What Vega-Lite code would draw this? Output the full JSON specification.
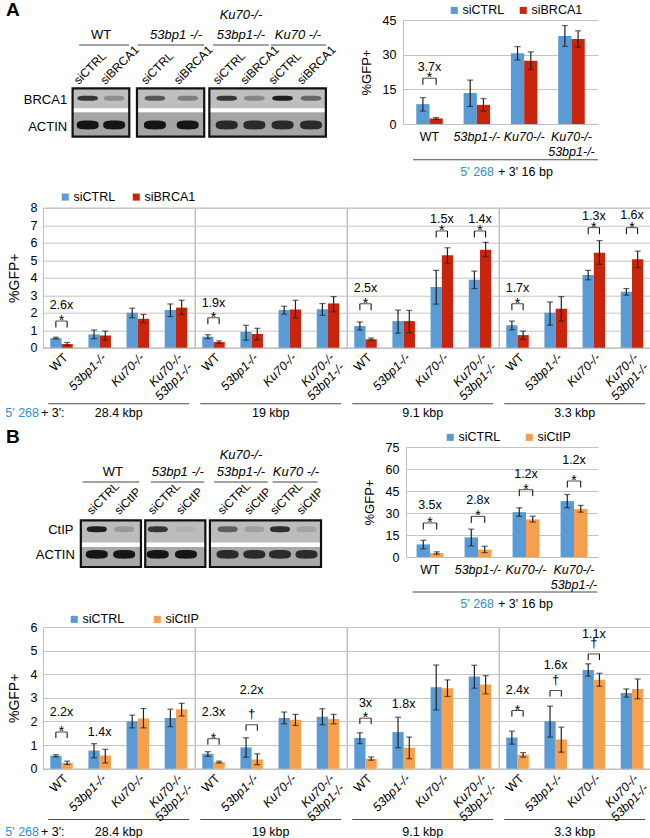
{
"$schema": "https://vega.github.io/schema/vega-lite/v6.json",
"padding": {"left": 4, "top": 0, "right": 2, "bottom": 0},
"config": {
  "font": "Liberation Sans",
  "view": {"stroke": null},
  "axis": {"labelFont": "Liberation Sans", "titleFont": "Liberation Sans", "labelFontSize": 12.5, "titleFontSize": 13, "titleFontWeight": "normal", "labelColor": "#000", "titleColor": "#000", "domainColor": "#bfbfbf", "gridColor": "#c4c4c4", "ticks": false, "labelOverlap": false},
  "legend": {"labelFont": "Liberation Sans", "labelFontSize": 12.5, "labelColor": "#000", "symbolType": "square", "symbolSize": 50, "symbolStrokeWidth": 0, "labelOffset": 2},
  "text": {"font": "Liberation Sans", "fontSize": 12.5, "color": "#000"}
},
"resolve": {"scale": {"color": "independent", "xOffset": "independent", "opacity": "independent", "x": "independent", "y": "independent"}},
"concat": [
 {
  "concat": [
   {
    "hconcat": [
     {
      "width": 288, "height": 104,
      "layer": [
       {"data": {"name": "blA_boxes"}, "mark": {"type": "rect", "color": "#bebebe"},
        "encoding": {"x": {"field": "from", "type": "quantitative", "scale": {"domain": [-0.568, 9.54], "nice": false, "zero": false}, "axis": null}, "x2": {"field": "to"},
                     "y": {"datum": 3.57, "type": "quantitative", "scale": {"domain": [0, 10.4], "nice": false, "zero": false}, "axis": null}, "y2": {"datum": -1.27}}},
       {"data": {"name": "blA_boxes"}, "mark": {"type": "rect", "color": "#a4a4a4"},
        "encoding": {"x": {"field": "from", "type": "quantitative", "axis": null}, "x2": {"field": "to"}, "y": {"datum": 1.17, "type": "quantitative", "axis": null}, "y2": {"datum": -1.27}}},
       {"data": {"name": "blA_boxes"}, "mark": {"type": "rect", "color": "#ffffff"},
        "encoding": {"x": {"field": "from", "type": "quantitative", "axis": null}, "x2": {"field": "to"}, "y": {"datum": 1.57, "type": "quantitative", "axis": null}, "y2": {"datum": 1.17}}},
       {"data": {"name": "blA_lanes"}, "mark": {"type": "point", "filled": true, "shape": "M-1,0C-1,-0.2,-0.8,-0.25,0,-0.25C0.8,-0.25,1,-0.2,1,0C1,0.2,0.8,0.25,0,0.25C-0.8,0.25,-1,0.2,-1,0Z", "size": 420, "color": "#1e1e1e", "strokeWidth": 0},
        "encoding": {"x": {"field": "lane", "type": "quantitative", "axis": null}, "y": {"datum": 2.57, "type": "quantitative", "axis": null}, "opacity": {"field": "p", "type": "quantitative", "scale": {"domain": [0, 1], "range": [0, 1]}, "legend": null}}},
       {"data": {"name": "blA_lanes"}, "mark": {"type": "point", "filled": true, "shape": "M-1,0C-1,-0.32,-0.8,-0.4,0,-0.4C0.8,-0.4,1,-0.32,1,0C1,0.32,0.8,0.4,0,0.4C-0.8,0.4,-1,0.32,-1,0Z", "size": 484, "color": "#151515", "strokeWidth": 0},
        "encoding": {"x": {"field": "lane", "type": "quantitative", "axis": null}, "y": {"datum": -0.1, "type": "quantitative", "axis": null}, "opacity": {"field": "a", "type": "quantitative", "scale": {"domain": [0, 1], "range": [0, 1]}, "legend": null}}},
       {"data": {"name": "blA_boxes"}, "mark": {"type": "rect", "filled": false, "stroke": "#111", "strokeWidth": 2.2},
        "encoding": {"x": {"field": "from", "type": "quantitative", "axis": null}, "x2": {"field": "to"}, "y": {"datum": 3.57, "type": "quantitative", "axis": null}, "y2": {"datum": -1.27}}},
       {"data": {"values": [{"t": "BRCA1"}]}, "mark": {"type": "text", "align": "right", "baseline": "middle", "fontSize": 13},
        "encoding": {"x": {"datum": 0.28, "type": "quantitative", "axis": null}, "y": {"datum": 2.4, "type": "quantitative", "axis": null}, "text": {"field": "t"}}},
       {"data": {"values": [{"t": "ACTIN"}]}, "mark": {"type": "text", "align": "right", "baseline": "middle", "fontSize": 13},
        "encoding": {"x": {"datum": 0.28, "type": "quantitative", "axis": null}, "y": {"datum": -0.3, "type": "quantitative", "axis": null}, "text": {"field": "t"}}},
       {"data": {"name": "blA_lanes"}, "mark": {"type": "text", "angle": 315, "align": "left", "baseline": "alphabetic", "fontSize": 12, "xOffset": -9},
        "encoding": {"x": {"field": "lane", "type": "quantitative", "axis": null}, "y": {"datum": 3.9, "type": "quantitative", "axis": null}, "text": {"field": "si"}}},
       {"data": {"name": "blA_groups"}, "mark": {"type": "rule", "color": "#444", "strokeWidth": 1},
        "encoding": {"x": {"field": "from", "type": "quantitative", "axis": null}, "x2": {"field": "to"}, "y": {"datum": 7.9, "type": "quantitative", "axis": null}}},
       {"data": {"name": "blA_groups"}, "transform": [{"filter": "datum.g == 'WT'"}], "mark": {"type": "text", "baseline": "middle", "fontSize": 13},
        "encoding": {"x": {"field": "c", "type": "quantitative", "axis": null}, "y": {"datum": 8.9, "type": "quantitative", "axis": null}, "text": {"field": "g"}}},
       {"data": {"name": "blA_groups"}, "transform": [{"filter": "datum.g != 'WT'"}], "mark": {"type": "text", "baseline": "middle", "fontSize": 13, "fontStyle": "italic"},
        "encoding": {"x": {"field": "c", "type": "quantitative", "axis": null}, "y": {"datum": 8.9, "type": "quantitative", "axis": null}, "text": {"field": "g"}}},
       {"data": {"values": [{"t": "Ku70-/-"}]}, "mark": {"type": "text", "baseline": "middle", "fontSize": 13, "fontStyle": "italic"},
        "encoding": {"x": {"datum": 6.38, "type": "quantitative", "axis": null}, "y": {"datum": 10.9, "type": "quantitative", "axis": null}, "text": {"field": "t"}}},
       {"data": {"values": [{"t": "A"}]}, "mark": {"type": "text", "align": "left", "baseline": "middle", "fontSize": 19, "fontWeight": "bold"},
        "encoding": {"x": {"datum": -1.87, "type": "quantitative", "axis": null}, "y": {"datum": 11.45, "type": "quantitative", "axis": null}, "text": {"field": "t"}}}
      ]
     },
     {
      "width": 195, "height": 104,
      "layer": [
       {"data": {"name": "sA_bars"},
        "encoding": {"x": {"field": "geno", "type": "nominal", "sort": ["WT", "53bp1-/-", "Ku70-/-", "Ku70-/- 53bp1-/-"], "scale": {"paddingInner": 0.44, "paddingOuter": 0.28},
                           "axis": {"title": null, "labelAngle": 0, "labelPadding": 6, "labelLineHeight": 15, "labelExpr": "datum.value == 'Ku70-/- 53bp1-/-' ? ['Ku70-/-', '53bp1-/-'] : datum.value", "labelFontStyle": {"condition": {"test": "datum.value == 'WT'", "value": "normal"}, "value": "italic"}}},
                     "xOffset": {"field": "si", "type": "nominal", "sort": ["siCTRL", "siBRCA1"]}},
        "layer": [
         {"mark": {"type": "bar"},
          "encoding": {"y": {"field": "v", "type": "quantitative", "scale": {"domain": [0, 45], "nice": false}, "axis": {"title": "%GFP+", "values": [0, 15, 30, 45], "tickCount": 20, "format": "d", "grid": true, "labelPadding": 7, "titlePadding": 9}},
                       "color": {"field": "si", "type": "nominal", "scale": {"domain": ["siCTRL", "siBRCA1"], "range": ["#5b9bd5", "#c9240c"]}, "legend": {"orient": "none", "legendX": 45, "legendY": -16, "direction": "horizontal", "title": null, "columnPadding": 12}}}},
         {"mark": {"type": "rule", "color": "#222", "strokeWidth": 1.2}, "encoding": {"y": {"field": "lo", "type": "quantitative"}, "y2": {"field": "hi"}}},
         {"mark": {"type": "tick", "size": 6, "thickness": 1.2, "color": "#222"}, "encoding": {"y": {"field": "lo", "type": "quantitative"}}},
         {"mark": {"type": "tick", "size": 6, "thickness": 1.2, "color": "#222"}, "encoding": {"y": {"field": "hi", "type": "quantitative"}}}
        ]},
       {"data": {"name": "sA_ann"},
        "encoding": {"x": {"field": "geno", "type": "nominal", "sort": ["WT", "53bp1-/-", "Ku70-/-", "Ku70-/- 53bp1-/-"]}},
        "layer": [
         {"mark": {"type": "text", "baseline": "middle", "fontSize": 12.5}, "encoding": {"y": {"field": "ly", "type": "quantitative"}, "text": {"field": "lab"}}},
         {"transform": [{"filter": "datum.sig == '*'"}], "mark": {"type": "text", "baseline": "alphabetic", "fontSize": 14, "dy": 4}, "encoding": {"y": {"field": "by", "type": "quantitative"}, "text": {"field": "sig"}}},
         {"transform": [{"filter": "isValid(datum.by)"}], "mark": {"type": "tick", "size": 13.3, "thickness": 1, "color": "#000"}, "encoding": {"y": {"field": "by", "type": "quantitative"}}},
         {"transform": [{"filter": "isValid(datum.by)"}, {"flatten": ["pair"], "as": ["si"]}], "mark": {"type": "rule", "color": "#000", "strokeWidth": 1, "y2Offset": 6.5},
          "encoding": {"xOffset": {"field": "si", "type": "nominal", "sort": ["siCTRL", "siBRCA1"]}, "y": {"field": "by", "type": "quantitative"}, "y2": {"field": "by"}}}
        ]},
       {"data": {"values": [{}]}, "mark": {"type": "tick", "orient": "horizontal", "size": 185, "thickness": 1, "color": "#000", "yOffset": 35.7, "xOffset": 5}, "encoding": {"y": {"datum": 0, "type": "quantitative"}}},
       {"data": {"values": [{"t": "5' 268"}]}, "mark": {"type": "text", "align": "right", "baseline": "middle", "color": "#2f8fd0", "dx": -6.5, "dy": 47.7, "fontSize": 12.5}, "encoding": {"y": {"datum": 0, "type": "quantitative"}, "text": {"field": "t"}}},
       {"data": {"values": [{"t": "+ 3' 16 bp"}]}, "mark": {"type": "text", "align": "left", "baseline": "middle", "dx": -2.5, "dy": 47.7, "fontSize": 12.5}, "encoding": {"y": {"datum": 0, "type": "quantitative"}, "text": {"field": "t"}}}
      ]
     }
    ],
    "spacing": 72, "bounds": "flush",
    "resolve": {"scale": {"color": "independent", "xOffset": "independent", "opacity": "independent", "x": "independent", "y": "independent"}}
   },
   {
    "hconcat": [
     {
      "width": 151.5, "height": 140, "view": {"stroke": "#bfbfbf"},
      "data": {"name": "bA"}, "transform": [{"filter": "datum.grp == '28.4 kbp'"}],
      "layer": [
       {"transform": [{"filter": "datum.kind == 'bar'"}],
        "encoding": {"x": {"field": "geno", "type": "nominal", "sort": ["WT", "53bp1-/-", "Ku70-/-", "Ku70-/- 53bp1-/-"], "scale": {"paddingInner": 0.41, "paddingOuter": 0.19}, "axis": {"title": null, "labelAngle": -45, "labelAlign": "right", "labelBaseline": "top", "labelPadding": 3, "labelLineHeight": 14, "labelExpr": "datum.value == 'Ku70-/- 53bp1-/-' ? ['Ku70-/-', '53bp1-/-'] : datum.value", "labelFontStyle": {"condition": {"test": "datum.value == 'WT'", "value": "normal"}, "value": "italic"}}},
                     "xOffset": {"field": "si", "type": "nominal", "sort": ["siCTRL", "siBRCA1"]}},
        "layer": [
         {"mark": {"type": "bar"}, "encoding": {"y": {"field": "v", "type": "quantitative", "scale": {"domain": [0, 8], "nice": false}, "axis": {"title": "%GFP+", "titleFontSize": 14, "values": [0, 1, 2, 3, 4, 5, 6, 7, 8], "tickCount": 20, "format": "d", "grid": true, "labelPadding": 6, "titlePadding": 9}},
           "color": {"field": "si", "type": "nominal", "scale": {"domain": ["siCTRL", "siBRCA1"], "range": ["#5b9bd5", "#c9240c"]}, "legend": {"orient": "none", "legendX": 16, "legendY": -17, "direction": "horizontal", "title": null, "columnPadding": 14}}}},
         {"mark": {"type": "rule", "color": "#222", "strokeWidth": 1.2}, "encoding": {"y": {"field": "lo", "type": "quantitative"}, "y2": {"field": "hi"}}},
         {"mark": {"type": "tick", "size": 6, "thickness": 1.2, "color": "#222"}, "encoding": {"y": {"field": "lo", "type": "quantitative"}}},
         {"mark": {"type": "tick", "size": 6, "thickness": 1.2, "color": "#222"}, "encoding": {"y": {"field": "hi", "type": "quantitative"}}}
        ]},
       {"transform": [{"filter": "datum.kind == 'ann'"}],
        "encoding": {"x": {"field": "geno", "type": "nominal", "sort": ["WT", "53bp1-/-", "Ku70-/-", "Ku70-/- 53bp1-/-"]}},
        "layer": [
         {"mark": {"type": "text", "baseline": "middle", "fontSize": 12.5}, "encoding": {"y": {"field": "ly", "type": "quantitative"}, "text": {"field": "lab"}}},
         {"transform": [{"filter": "datum.sig == '*'"}], "mark": {"type": "text", "baseline": "alphabetic", "fontSize": 14, "dy": 4}, "encoding": {"y": {"field": "by", "type": "quantitative"}, "text": {"field": "sig"}}},
         {"transform": [{"filter": "isValid(datum.by)"}], "mark": {"type": "tick", "size": 11.3, "thickness": 1, "color": "#000"}, "encoding": {"y": {"field": "by", "type": "quantitative"}}},
         {"transform": [{"filter": "isValid(datum.by)"}, {"flatten": ["pair"], "as": ["si"]}], "mark": {"type": "rule", "color": "#000", "strokeWidth": 1, "y2Offset": 6.5}, "encoding": {"xOffset": {"field": "si", "type": "nominal", "sort": ["siCTRL", "siBRCA1"]}, "y": {"field": "by", "type": "quantitative"}, "y2": {"field": "by"}}}
        ]},
       {"transform": [{"filter": "datum.kind == 'grp'"}],
        "layer": [
         {"mark": {"type": "tick", "orient": "horizontal", "size": 141, "thickness": 1, "color": "#000", "yOffset": 56}, "encoding": {"y": {"datum": 0, "type": "quantitative"}}},
         {"mark": {"type": "text", "baseline": "middle", "dy": 65, "fontSize": 12.5}, "encoding": {"y": {"datum": 0, "type": "quantitative"}, "text": {"field": "grp"}}}
        ]},
       {"transform": [{"filter": "datum.kind == 'left'"}],
        "layer": [
         {"transform": [{"filter": "datum.part == 'a'"}], "mark": {"type": "text", "align": "right", "baseline": "middle", "color": "#2f8fd0", "dx": -79.75, "dy": 65, "fontSize": 12.5}, "encoding": {"y": {"datum": 0, "type": "quantitative"}, "text": {"field": "t"}}},
         {"transform": [{"filter": "datum.part == 'b'"}], "mark": {"type": "text", "align": "left", "baseline": "middle", "dx": -77.75, "dy": 65, "fontSize": 12.5}, "encoding": {"y": {"datum": 0, "type": "quantitative"}, "text": {"field": "t"}}}
        ]}
      ]
     },
     {
      "width": 151.5, "height": 140, "view": {"stroke": "#bfbfbf"},
      "data": {"name": "bA"}, "transform": [{"filter": "datum.grp == '19 kbp'"}],
      "layer": [
       {"transform": [{"filter": "datum.kind == 'bar'"}],
        "encoding": {"x": {"field": "geno", "type": "nominal", "sort": ["WT", "53bp1-/-", "Ku70-/-", "Ku70-/- 53bp1-/-"], "scale": {"paddingInner": 0.41, "paddingOuter": 0.19}, "axis": {"title": null, "labelAngle": -45, "labelAlign": "right", "labelBaseline": "top", "labelPadding": 3, "labelLineHeight": 14, "labelExpr": "datum.value == 'Ku70-/- 53bp1-/-' ? ['Ku70-/-', '53bp1-/-'] : datum.value", "labelFontStyle": {"condition": {"test": "datum.value == 'WT'", "value": "normal"}, "value": "italic"}}},
                     "xOffset": {"field": "si", "type": "nominal", "sort": ["siCTRL", "siBRCA1"]}},
        "layer": [
         {"mark": {"type": "bar"}, "encoding": {"y": {"field": "v", "type": "quantitative", "scale": {"domain": [0, 8], "nice": false}, "axis": {"title": null, "labels": false, "domain": false, "values": [0, 1, 2, 3, 4, 5, 6, 7, 8], "tickCount": 20, "grid": true}},
           "color": {"field": "si", "type": "nominal", "scale": {"domain": ["siCTRL", "siBRCA1"], "range": ["#5b9bd5", "#c9240c"]}, "legend": null}}},
         {"mark": {"type": "rule", "color": "#222", "strokeWidth": 1.2}, "encoding": {"y": {"field": "lo", "type": "quantitative"}, "y2": {"field": "hi"}}},
         {"mark": {"type": "tick", "size": 6, "thickness": 1.2, "color": "#222"}, "encoding": {"y": {"field": "lo", "type": "quantitative"}}},
         {"mark": {"type": "tick", "size": 6, "thickness": 1.2, "color": "#222"}, "encoding": {"y": {"field": "hi", "type": "quantitative"}}}
        ]},
       {"transform": [{"filter": "datum.kind == 'ann'"}],
        "encoding": {"x": {"field": "geno", "type": "nominal", "sort": ["WT", "53bp1-/-", "Ku70-/-", "Ku70-/- 53bp1-/-"]}},
        "layer": [
         {"mark": {"type": "text", "baseline": "middle", "fontSize": 12.5}, "encoding": {"y": {"field": "ly", "type": "quantitative"}, "text": {"field": "lab"}}},
         {"transform": [{"filter": "datum.sig == '*'"}], "mark": {"type": "text", "baseline": "alphabetic", "fontSize": 14, "dy": 4}, "encoding": {"y": {"field": "by", "type": "quantitative"}, "text": {"field": "sig"}}},
         {"transform": [{"filter": "isValid(datum.by)"}], "mark": {"type": "tick", "size": 11.3, "thickness": 1, "color": "#000"}, "encoding": {"y": {"field": "by", "type": "quantitative"}}},
         {"transform": [{"filter": "isValid(datum.by)"}, {"flatten": ["pair"], "as": ["si"]}], "mark": {"type": "rule", "color": "#000", "strokeWidth": 1, "y2Offset": 6.5}, "encoding": {"xOffset": {"field": "si", "type": "nominal", "sort": ["siCTRL", "siBRCA1"]}, "y": {"field": "by", "type": "quantitative"}, "y2": {"field": "by"}}}
        ]},
       {"transform": [{"filter": "datum.kind == 'grp'"}],
        "layer": [
         {"mark": {"type": "tick", "orient": "horizontal", "size": 141, "thickness": 1, "color": "#000", "yOffset": 56}, "encoding": {"y": {"datum": 0, "type": "quantitative"}}},
         {"mark": {"type": "text", "baseline": "middle", "dy": 65, "fontSize": 12.5}, "encoding": {"y": {"datum": 0, "type": "quantitative"}, "text": {"field": "grp"}}}
        ]}
      ]
     },
     {
      "width": 151.5, "height": 140, "view": {"stroke": "#bfbfbf"},
      "data": {"name": "bA"}, "transform": [{"filter": "datum.grp == '9.1 kbp'"}],
      "layer": [
       {"transform": [{"filter": "datum.kind == 'bar'"}],
        "encoding": {"x": {"field": "geno", "type": "nominal", "sort": ["WT", "53bp1-/-", "Ku70-/-", "Ku70-/- 53bp1-/-"], "scale": {"paddingInner": 0.41, "paddingOuter": 0.19}, "axis": {"title": null, "labelAngle": -45, "labelAlign": "right", "labelBaseline": "top", "labelPadding": 3, "labelLineHeight": 14, "labelExpr": "datum.value == 'Ku70-/- 53bp1-/-' ? ['Ku70-/-', '53bp1-/-'] : datum.value", "labelFontStyle": {"condition": {"test": "datum.value == 'WT'", "value": "normal"}, "value": "italic"}}},
                     "xOffset": {"field": "si", "type": "nominal", "sort": ["siCTRL", "siBRCA1"]}},
        "layer": [
         {"mark": {"type": "bar"}, "encoding": {"y": {"field": "v", "type": "quantitative", "scale": {"domain": [0, 8], "nice": false}, "axis": {"title": null, "labels": false, "domain": false, "values": [0, 1, 2, 3, 4, 5, 6, 7, 8], "tickCount": 20, "grid": true}},
           "color": {"field": "si", "type": "nominal", "scale": {"domain": ["siCTRL", "siBRCA1"], "range": ["#5b9bd5", "#c9240c"]}, "legend": null}}},
         {"mark": {"type": "rule", "color": "#222", "strokeWidth": 1.2}, "encoding": {"y": {"field": "lo", "type": "quantitative"}, "y2": {"field": "hi"}}},
         {"mark": {"type": "tick", "size": 6, "thickness": 1.2, "color": "#222"}, "encoding": {"y": {"field": "lo", "type": "quantitative"}}},
         {"mark": {"type": "tick", "size": 6, "thickness": 1.2, "color": "#222"}, "encoding": {"y": {"field": "hi", "type": "quantitative"}}}
        ]},
       {"transform": [{"filter": "datum.kind == 'ann'"}],
        "encoding": {"x": {"field": "geno", "type": "nominal", "sort": ["WT", "53bp1-/-", "Ku70-/-", "Ku70-/- 53bp1-/-"]}},
        "layer": [
         {"mark": {"type": "text", "baseline": "middle", "fontSize": 12.5}, "encoding": {"y": {"field": "ly", "type": "quantitative"}, "text": {"field": "lab"}}},
         {"transform": [{"filter": "datum.sig == '*'"}], "mark": {"type": "text", "baseline": "alphabetic", "fontSize": 14, "dy": 4}, "encoding": {"y": {"field": "by", "type": "quantitative"}, "text": {"field": "sig"}}},
         {"transform": [{"filter": "isValid(datum.by)"}], "mark": {"type": "tick", "size": 11.3, "thickness": 1, "color": "#000"}, "encoding": {"y": {"field": "by", "type": "quantitative"}}},
         {"transform": [{"filter": "isValid(datum.by)"}, {"flatten": ["pair"], "as": ["si"]}], "mark": {"type": "rule", "color": "#000", "strokeWidth": 1, "y2Offset": 6.5}, "encoding": {"xOffset": {"field": "si", "type": "nominal", "sort": ["siCTRL", "siBRCA1"]}, "y": {"field": "by", "type": "quantitative"}, "y2": {"field": "by"}}}
        ]},
       {"transform": [{"filter": "datum.kind == 'grp'"}],
        "layer": [
         {"mark": {"type": "tick", "orient": "horizontal", "size": 141, "thickness": 1, "color": "#000", "yOffset": 56}, "encoding": {"y": {"datum": 0, "type": "quantitative"}}},
         {"mark": {"type": "text", "baseline": "middle", "dy": 65, "fontSize": 12.5}, "encoding": {"y": {"datum": 0, "type": "quantitative"}, "text": {"field": "grp"}}}
        ]}
      ]
     },
     {
      "width": 151.5, "height": 140, "view": {"stroke": "#bfbfbf"},
      "data": {"name": "bA"}, "transform": [{"filter": "datum.grp == '3.3 kbp'"}],
      "layer": [
       {"transform": [{"filter": "datum.kind == 'bar'"}],
        "encoding": {"x": {"field": "geno", "type": "nominal", "sort": ["WT", "53bp1-/-", "Ku70-/-", "Ku70-/- 53bp1-/-"], "scale": {"paddingInner": 0.41, "paddingOuter": 0.19}, "axis": {"title": null, "labelAngle": -45, "labelAlign": "right", "labelBaseline": "top", "labelPadding": 3, "labelLineHeight": 14, "labelExpr": "datum.value == 'Ku70-/- 53bp1-/-' ? ['Ku70-/-', '53bp1-/-'] : datum.value", "labelFontStyle": {"condition": {"test": "datum.value == 'WT'", "value": "normal"}, "value": "italic"}}},
                     "xOffset": {"field": "si", "type": "nominal", "sort": ["siCTRL", "siBRCA1"]}},
        "layer": [
         {"mark": {"type": "bar"}, "encoding": {"y": {"field": "v", "type": "quantitative", "scale": {"domain": [0, 8], "nice": false}, "axis": {"title": null, "labels": false, "domain": false, "values": [0, 1, 2, 3, 4, 5, 6, 7, 8], "tickCount": 20, "grid": true}},
           "color": {"field": "si", "type": "nominal", "scale": {"domain": ["siCTRL", "siBRCA1"], "range": ["#5b9bd5", "#c9240c"]}, "legend": null}}},
         {"mark": {"type": "rule", "color": "#222", "strokeWidth": 1.2}, "encoding": {"y": {"field": "lo", "type": "quantitative"}, "y2": {"field": "hi"}}},
         {"mark": {"type": "tick", "size": 6, "thickness": 1.2, "color": "#222"}, "encoding": {"y": {"field": "lo", "type": "quantitative"}}},
         {"mark": {"type": "tick", "size": 6, "thickness": 1.2, "color": "#222"}, "encoding": {"y": {"field": "hi", "type": "quantitative"}}}
        ]},
       {"transform": [{"filter": "datum.kind == 'ann'"}],
        "encoding": {"x": {"field": "geno", "type": "nominal", "sort": ["WT", "53bp1-/-", "Ku70-/-", "Ku70-/- 53bp1-/-"]}},
        "layer": [
         {"mark": {"type": "text", "baseline": "middle", "fontSize": 12.5}, "encoding": {"y": {"field": "ly", "type": "quantitative"}, "text": {"field": "lab"}}},
         {"transform": [{"filter": "datum.sig == '*'"}], "mark": {"type": "text", "baseline": "alphabetic", "fontSize": 14, "dy": 4}, "encoding": {"y": {"field": "by", "type": "quantitative"}, "text": {"field": "sig"}}},
         {"transform": [{"filter": "isValid(datum.by)"}], "mark": {"type": "tick", "size": 11.3, "thickness": 1, "color": "#000"}, "encoding": {"y": {"field": "by", "type": "quantitative"}}},
         {"transform": [{"filter": "isValid(datum.by)"}, {"flatten": ["pair"], "as": ["si"]}], "mark": {"type": "rule", "color": "#000", "strokeWidth": 1, "y2Offset": 6.5}, "encoding": {"xOffset": {"field": "si", "type": "nominal", "sort": ["siCTRL", "siBRCA1"]}, "y": {"field": "by", "type": "quantitative"}, "y2": {"field": "by"}}}
        ]},
       {"transform": [{"filter": "datum.kind == 'grp'"}],
        "layer": [
         {"mark": {"type": "tick", "orient": "horizontal", "size": 141, "thickness": 1, "color": "#000", "yOffset": 56}, "encoding": {"y": {"datum": 0, "type": "quantitative"}}},
         {"mark": {"type": "text", "baseline": "middle", "dy": 65, "fontSize": 12.5}, "encoding": {"y": {"datum": 0, "type": "quantitative"}, "text": {"field": "grp"}}}
        ]}
      ]
     }
    ],
    "spacing": 0, "bounds": "flush",
    "resolve": {"scale": {"color": "independent", "xOffset": "independent", "x": "independent", "y": "independent"}}
   }
  ],
  "columns": 1, "align": "none", "spacing": 10.7,
  "resolve": {"scale": {"color": "independent", "xOffset": "independent", "opacity": "independent", "x": "independent", "y": "independent"}}
 },
 {
  "concat": [
   {
    "hconcat": [
     {
      "width": 288, "height": 110,
      "layer": [
       {"data": {"name": "blB_boxes"}, "mark": {"type": "rect", "color": "#bcbcbc"},
        "encoding": {"x": {"field": "from", "type": "quantitative", "scale": {"domain": [-0.568, 9.54], "nice": false, "zero": false}, "axis": null}, "x2": {"field": "to"},
                     "y": {"datum": 3.67, "type": "quantitative", "scale": {"domain": [0, 11], "nice": false, "zero": false}, "axis": null}, "y2": {"datum": -1.0}}},
       {"data": {"name": "blB_boxes"}, "mark": {"type": "rect", "color": "#a8a8a8"},
        "encoding": {"x": {"field": "from", "type": "quantitative", "axis": null}, "x2": {"field": "to"}, "y": {"datum": 1.0, "type": "quantitative", "axis": null}, "y2": {"datum": -1.0}}},
       {"data": {"name": "blB_boxes"}, "mark": {"type": "rect", "color": "#ffffff"},
        "encoding": {"x": {"field": "from", "type": "quantitative", "axis": null}, "x2": {"field": "to"}, "y": {"datum": 1.44, "type": "quantitative", "axis": null}, "y2": {"datum": 1.0}}},
       {"data": {"name": "blB_lanes"}, "mark": {"type": "point", "filled": true, "shape": "M-1,0C-1,-0.24,-0.8,-0.3,0,-0.3C0.8,-0.3,1,-0.24,1,0C1,0.24,0.8,0.3,0,0.3C-0.8,0.3,-1,0.24,-1,0Z", "size": 400, "color": "#1e1e1e", "strokeWidth": 0},
        "encoding": {"x": {"field": "lane", "type": "quantitative", "axis": null}, "y": {"datum": 2.77, "type": "quantitative", "axis": null}, "opacity": {"field": "p", "type": "quantitative", "scale": {"domain": [0, 1], "range": [0, 1]}, "legend": null}}},
       {"data": {"name": "blB_lanes"}, "mark": {"type": "point", "filled": true, "shape": "M-1,0C-1,-0.32,-0.8,-0.4,0,-0.4C0.8,-0.4,1,-0.32,1,0C1,0.32,0.8,0.4,0,0.4C-0.8,0.4,-1,0.32,-1,0Z", "size": 484, "color": "#151515", "strokeWidth": 0},
        "encoding": {"x": {"field": "lane", "type": "quantitative", "axis": null}, "y": {"datum": 0.27, "type": "quantitative", "axis": null}, "opacity": {"field": "a", "type": "quantitative", "scale": {"domain": [0, 1], "range": [0, 1]}, "legend": null}}},
       {"data": {"name": "blB_boxes"}, "mark": {"type": "rect", "filled": false, "stroke": "#111", "strokeWidth": 2.2},
        "encoding": {"x": {"field": "from", "type": "quantitative", "axis": null}, "x2": {"field": "to"}, "y": {"datum": 3.67, "type": "quantitative", "axis": null}, "y2": {"datum": -1.0}}},
       {"data": {"values": [{"t": "CtIP"}]}, "mark": {"type": "text", "align": "right", "baseline": "middle", "fontSize": 13},
        "encoding": {"x": {"datum": 0.5, "type": "quantitative", "axis": null}, "y": {"datum": 2.67, "type": "quantitative", "axis": null}, "text": {"field": "t"}}},
       {"data": {"values": [{"t": "ACTIN"}]}, "mark": {"type": "text", "align": "right", "baseline": "middle", "fontSize": 13},
        "encoding": {"x": {"datum": 0.55, "type": "quantitative", "axis": null}, "y": {"datum": 0.17, "type": "quantitative", "axis": null}, "text": {"field": "t"}}},
       {"data": {"name": "blB_lanes"}, "mark": {"type": "text", "angle": 315, "align": "left", "baseline": "alphabetic", "fontSize": 12, "xOffset": -5},
        "encoding": {"x": {"field": "lane", "type": "quantitative", "axis": null}, "y": {"datum": 4.17, "type": "quantitative", "axis": null}, "text": {"field": "si"}}},
       {"data": {"name": "blB_groups"}, "mark": {"type": "rule", "color": "#444", "strokeWidth": 1},
        "encoding": {"x": {"field": "from", "type": "quantitative", "axis": null}, "x2": {"field": "to"}, "y": {"datum": 7.5, "type": "quantitative", "axis": null}}},
       {"data": {"name": "blB_groups"}, "transform": [{"filter": "datum.g == 'WT'"}], "mark": {"type": "text", "baseline": "middle", "fontSize": 13},
        "encoding": {"x": {"field": "c", "type": "quantitative", "axis": null}, "y": {"datum": 8.5, "type": "quantitative", "axis": null}, "text": {"field": "g"}}},
       {"data": {"name": "blB_groups"}, "transform": [{"filter": "datum.g != 'WT'"}], "mark": {"type": "text", "baseline": "middle", "fontSize": 13, "fontStyle": "italic"},
        "encoding": {"x": {"field": "c", "type": "quantitative", "axis": null}, "y": {"datum": 8.5, "type": "quantitative", "axis": null}, "text": {"field": "g"}}},
       {"data": {"values": [{"t": "Ku70-/-"}]}, "mark": {"type": "text", "baseline": "middle", "fontSize": 13, "fontStyle": "italic"},
        "encoding": {"x": {"datum": 6.38, "type": "quantitative", "axis": null}, "y": {"datum": 10.17, "type": "quantitative", "axis": null}, "text": {"field": "t"}}},
       {"data": {"values": [{"t": "B"}]}, "mark": {"type": "text", "align": "left", "baseline": "middle", "fontSize": 19, "fontWeight": "bold"},
        "encoding": {"x": {"datum": -1.87, "type": "quantitative", "axis": null}, "y": {"datum": 11.97, "type": "quantitative", "axis": null}, "text": {"field": "t"}}}
      ]
     },
     {
      "width": 192, "height": 110,
      "layer": [
       {"data": {"name": "sB_bars"},
        "encoding": {"x": {"field": "geno", "type": "nominal", "sort": ["WT", "53bp1-/-", "Ku70-/-", "Ku70-/- 53bp1-/-"], "scale": {"paddingInner": 0.44, "paddingOuter": 0.22},
                           "axis": {"title": null, "labelAngle": 0, "labelPadding": 6, "labelLineHeight": 15, "labelExpr": "datum.value == 'Ku70-/- 53bp1-/-' ? ['Ku70-/-', '53bp1-/-'] : datum.value", "labelFontStyle": {"condition": {"test": "datum.value == 'WT'", "value": "normal"}, "value": "italic"}}},
                     "xOffset": {"field": "si", "type": "nominal", "sort": ["siCTRL", "siCtIP"]}},
        "layer": [
         {"mark": {"type": "bar"},
          "encoding": {"y": {"field": "v", "type": "quantitative", "scale": {"domain": [0, 75], "nice": false}, "axis": {"title": "%GFP+", "values": [0, 15, 30, 45, 60, 75], "tickCount": 20, "format": "d", "grid": true, "labelPadding": 7, "titlePadding": 9}},
                       "color": {"field": "si", "type": "nominal", "scale": {"domain": ["siCTRL", "siCtIP"], "range": ["#5b9bd5", "#f5a04c"]}, "legend": {"orient": "none", "legendX": 38, "legendY": -16, "direction": "horizontal", "title": null, "columnPadding": 22}}}},
         {"mark": {"type": "rule", "color": "#222", "strokeWidth": 1.2}, "encoding": {"y": {"field": "lo", "type": "quantitative"}, "y2": {"field": "hi"}}},
         {"mark": {"type": "tick", "size": 6, "thickness": 1.2, "color": "#222"}, "encoding": {"y": {"field": "lo", "type": "quantitative"}}},
         {"mark": {"type": "tick", "size": 6, "thickness": 1.2, "color": "#222"}, "encoding": {"y": {"field": "hi", "type": "quantitative"}}}
        ]},
       {"data": {"name": "sB_ann"},
        "encoding": {"x": {"field": "geno", "type": "nominal", "sort": ["WT", "53bp1-/-", "Ku70-/-", "Ku70-/- 53bp1-/-"]}},
        "layer": [
         {"mark": {"type": "text", "baseline": "middle", "fontSize": 12.5}, "encoding": {"y": {"field": "ly", "type": "quantitative"}, "text": {"field": "lab"}}},
         {"transform": [{"filter": "datum.sig == '*'"}], "mark": {"type": "text", "baseline": "alphabetic", "fontSize": 14, "dy": 4}, "encoding": {"y": {"field": "by", "type": "quantitative"}, "text": {"field": "sig"}}},
         {"transform": [{"filter": "isValid(datum.by)"}], "mark": {"type": "tick", "size": 13.4, "thickness": 1, "color": "#000"}, "encoding": {"y": {"field": "by", "type": "quantitative"}}},
         {"transform": [{"filter": "isValid(datum.by)"}, {"flatten": ["pair"], "as": ["si"]}], "mark": {"type": "rule", "color": "#000", "strokeWidth": 1, "y2Offset": 6.5},
          "encoding": {"xOffset": {"field": "si", "type": "nominal", "sort": ["siCTRL", "siCtIP"]}, "y": {"field": "by", "type": "quantitative"}, "y2": {"field": "by"}}}
        ]},
       {"data": {"values": [{}]}, "mark": {"type": "tick", "orient": "horizontal", "size": 185, "thickness": 1, "color": "#000", "yOffset": 35, "xOffset": 3}, "encoding": {"y": {"datum": 0, "type": "quantitative"}}},
       {"data": {"values": [{"t": "5' 268"}]}, "mark": {"type": "text", "align": "right", "baseline": "middle", "color": "#2f8fd0", "dx": -8, "dy": 46.6, "fontSize": 12.5}, "encoding": {"y": {"datum": 0, "type": "quantitative"}, "text": {"field": "t"}}},
       {"data": {"values": [{"t": "+ 3' 16 bp"}]}, "mark": {"type": "text", "align": "left", "baseline": "middle", "dx": -4, "dy": 46.6, "fontSize": 12.5}, "encoding": {"y": {"datum": 0, "type": "quantitative"}, "text": {"field": "t"}}}
      ]
     }
    ],
    "spacing": 75, "bounds": "flush",
    "resolve": {"scale": {"color": "independent", "xOffset": "independent", "opacity": "independent", "x": "independent", "y": "independent"}}
   },
   {
    "hconcat": [
     {
      "width": 151.5, "height": 141.7, "view": {"stroke": "#bfbfbf"},
      "data": {"name": "bB"}, "transform": [{"filter": "datum.grp == '28.4 kbp'"}],
      "layer": [
       {"transform": [{"filter": "datum.kind == 'bar'"}],
        "encoding": {"x": {"field": "geno", "type": "nominal", "sort": ["WT", "53bp1-/-", "Ku70-/-", "Ku70-/- 53bp1-/-"], "scale": {"paddingInner": 0.41, "paddingOuter": 0.19}, "axis": {"title": null, "labelAngle": -45, "labelAlign": "right", "labelBaseline": "top", "labelPadding": 3, "labelLineHeight": 14, "labelExpr": "datum.value == 'Ku70-/- 53bp1-/-' ? ['Ku70-/-', '53bp1-/-'] : datum.value", "labelFontStyle": {"condition": {"test": "datum.value == 'WT'", "value": "normal"}, "value": "italic"}}},
                     "xOffset": {"field": "si", "type": "nominal", "sort": ["siCTRL", "siCtIP"]}},
        "layer": [
         {"mark": {"type": "bar"}, "encoding": {"y": {"field": "v", "type": "quantitative", "scale": {"domain": [0, 6], "nice": false}, "axis": {"title": "%GFP+", "titleFontSize": 14, "values": [0, 1, 2, 3, 4, 5, 6], "tickCount": 20, "format": "d", "grid": true, "labelPadding": 6, "titlePadding": 9}},
           "color": {"field": "si", "type": "nominal", "scale": {"domain": ["siCTRL", "siCtIP"], "range": ["#5b9bd5", "#f5a04c"]}, "legend": {"orient": "none", "legendX": 25, "legendY": -14, "direction": "horizontal", "title": null, "columnPadding": 26}}}},
         {"mark": {"type": "rule", "color": "#222", "strokeWidth": 1.2}, "encoding": {"y": {"field": "lo", "type": "quantitative"}, "y2": {"field": "hi"}}},
         {"mark": {"type": "tick", "size": 6, "thickness": 1.2, "color": "#222"}, "encoding": {"y": {"field": "lo", "type": "quantitative"}}},
         {"mark": {"type": "tick", "size": 6, "thickness": 1.2, "color": "#222"}, "encoding": {"y": {"field": "hi", "type": "quantitative"}}}
        ]},
       {"transform": [{"filter": "datum.kind == 'ann'"}],
        "encoding": {"x": {"field": "geno", "type": "nominal", "sort": ["WT", "53bp1-/-", "Ku70-/-", "Ku70-/- 53bp1-/-"]}},
        "layer": [
         {"mark": {"type": "text", "baseline": "middle", "fontSize": 12.5}, "encoding": {"y": {"field": "ly", "type": "quantitative"}, "text": {"field": "lab"}}},
         {"transform": [{"filter": "datum.sig == '*'"}], "mark": {"type": "text", "baseline": "alphabetic", "fontSize": 14, "dy": 4}, "encoding": {"y": {"field": "by", "type": "quantitative"}, "text": {"field": "sig"}}},
         {"transform": [{"filter": "datum.sig == '†'"}], "mark": {"type": "text", "baseline": "alphabetic", "fontSize": 13, "dy": -7, "color": "#000"}, "encoding": {"y": {"field": "by", "type": "quantitative"}, "text": {"field": "sig"}}},
         {"transform": [{"filter": "isValid(datum.by)"}], "mark": {"type": "tick", "size": 11.3, "thickness": 1, "color": "#000"}, "encoding": {"y": {"field": "by", "type": "quantitative"}}},
         {"transform": [{"filter": "isValid(datum.by)"}, {"flatten": ["pair"], "as": ["si"]}], "mark": {"type": "rule", "color": "#000", "strokeWidth": 1, "y2Offset": 6}, "encoding": {"xOffset": {"field": "si", "type": "nominal", "sort": ["siCTRL", "siCtIP"]}, "y": {"field": "by", "type": "quantitative"}, "y2": {"field": "by"}}}
        ]},
       {"transform": [{"filter": "datum.kind == 'grp'"}],
        "layer": [
         {"mark": {"type": "tick", "orient": "horizontal", "size": 141, "thickness": 1, "color": "#000", "yOffset": 50.7}, "encoding": {"y": {"datum": 0, "type": "quantitative"}}},
         {"mark": {"type": "text", "baseline": "middle", "dy": 63, "fontSize": 12.5}, "encoding": {"y": {"datum": 0, "type": "quantitative"}, "text": {"field": "grp"}}}
        ]},
       {"transform": [{"filter": "datum.kind == 'left'"}],
        "layer": [
         {"transform": [{"filter": "datum.part == 'a'"}], "mark": {"type": "text", "align": "right", "baseline": "middle", "color": "#2f8fd0", "dx": -79.75, "dy": 63, "fontSize": 12.5}, "encoding": {"y": {"datum": 0, "type": "quantitative"}, "text": {"field": "t"}}},
         {"transform": [{"filter": "datum.part == 'b'"}], "mark": {"type": "text", "align": "left", "baseline": "middle", "dx": -77.75, "dy": 63, "fontSize": 12.5}, "encoding": {"y": {"datum": 0, "type": "quantitative"}, "text": {"field": "t"}}}
        ]}
      ]
     },
     {
      "width": 151.5, "height": 141.7, "view": {"stroke": "#bfbfbf"},
      "data": {"name": "bB"}, "transform": [{"filter": "datum.grp == '19 kbp'"}],
      "layer": [
       {"transform": [{"filter": "datum.kind == 'bar'"}],
        "encoding": {"x": {"field": "geno", "type": "nominal", "sort": ["WT", "53bp1-/-", "Ku70-/-", "Ku70-/- 53bp1-/-"], "scale": {"paddingInner": 0.41, "paddingOuter": 0.19}, "axis": {"title": null, "labelAngle": -45, "labelAlign": "right", "labelBaseline": "top", "labelPadding": 3, "labelLineHeight": 14, "labelExpr": "datum.value == 'Ku70-/- 53bp1-/-' ? ['Ku70-/-', '53bp1-/-'] : datum.value", "labelFontStyle": {"condition": {"test": "datum.value == 'WT'", "value": "normal"}, "value": "italic"}}},
                     "xOffset": {"field": "si", "type": "nominal", "sort": ["siCTRL", "siCtIP"]}},
        "layer": [
         {"mark": {"type": "bar"}, "encoding": {"y": {"field": "v", "type": "quantitative", "scale": {"domain": [0, 6], "nice": false}, "axis": {"title": null, "labels": false, "domain": false, "values": [0, 1, 2, 3, 4, 5, 6], "tickCount": 20, "grid": true}},
           "color": {"field": "si", "type": "nominal", "scale": {"domain": ["siCTRL", "siCtIP"], "range": ["#5b9bd5", "#f5a04c"]}, "legend": null}}},
         {"mark": {"type": "rule", "color": "#222", "strokeWidth": 1.2}, "encoding": {"y": {"field": "lo", "type": "quantitative"}, "y2": {"field": "hi"}}},
         {"mark": {"type": "tick", "size": 6, "thickness": 1.2, "color": "#222"}, "encoding": {"y": {"field": "lo", "type": "quantitative"}}},
         {"mark": {"type": "tick", "size": 6, "thickness": 1.2, "color": "#222"}, "encoding": {"y": {"field": "hi", "type": "quantitative"}}}
        ]},
       {"transform": [{"filter": "datum.kind == 'ann'"}],
        "encoding": {"x": {"field": "geno", "type": "nominal", "sort": ["WT", "53bp1-/-", "Ku70-/-", "Ku70-/- 53bp1-/-"]}},
        "layer": [
         {"mark": {"type": "text", "baseline": "middle", "fontSize": 12.5}, "encoding": {"y": {"field": "ly", "type": "quantitative"}, "text": {"field": "lab"}}},
         {"transform": [{"filter": "datum.sig == '*'"}], "mark": {"type": "text", "baseline": "alphabetic", "fontSize": 14, "dy": 4}, "encoding": {"y": {"field": "by", "type": "quantitative"}, "text": {"field": "sig"}}},
         {"transform": [{"filter": "datum.sig == '†'"}], "mark": {"type": "text", "baseline": "alphabetic", "fontSize": 13, "dy": -7, "color": "#000"}, "encoding": {"y": {"field": "by", "type": "quantitative"}, "text": {"field": "sig"}}},
         {"transform": [{"filter": "isValid(datum.by)"}], "mark": {"type": "tick", "size": 11.3, "thickness": 1, "color": "#000"}, "encoding": {"y": {"field": "by", "type": "quantitative"}}},
         {"transform": [{"filter": "isValid(datum.by)"}, {"flatten": ["pair"], "as": ["si"]}], "mark": {"type": "rule", "color": "#000", "strokeWidth": 1, "y2Offset": 6}, "encoding": {"xOffset": {"field": "si", "type": "nominal", "sort": ["siCTRL", "siCtIP"]}, "y": {"field": "by", "type": "quantitative"}, "y2": {"field": "by"}}}
        ]},
       {"transform": [{"filter": "datum.kind == 'grp'"}],
        "layer": [
         {"mark": {"type": "tick", "orient": "horizontal", "size": 141, "thickness": 1, "color": "#000", "yOffset": 50.7}, "encoding": {"y": {"datum": 0, "type": "quantitative"}}},
         {"mark": {"type": "text", "baseline": "middle", "dy": 63, "fontSize": 12.5}, "encoding": {"y": {"datum": 0, "type": "quantitative"}, "text": {"field": "grp"}}}
        ]}
      ]
     },
     {
      "width": 151.5, "height": 141.7, "view": {"stroke": "#bfbfbf"},
      "data": {"name": "bB"}, "transform": [{"filter": "datum.grp == '9.1 kbp'"}],
      "layer": [
       {"transform": [{"filter": "datum.kind == 'bar'"}],
        "encoding": {"x": {"field": "geno", "type": "nominal", "sort": ["WT", "53bp1-/-", "Ku70-/-", "Ku70-/- 53bp1-/-"], "scale": {"paddingInner": 0.41, "paddingOuter": 0.19}, "axis": {"title": null, "labelAngle": -45, "labelAlign": "right", "labelBaseline": "top", "labelPadding": 3, "labelLineHeight": 14, "labelExpr": "datum.value == 'Ku70-/- 53bp1-/-' ? ['Ku70-/-', '53bp1-/-'] : datum.value", "labelFontStyle": {"condition": {"test": "datum.value == 'WT'", "value": "normal"}, "value": "italic"}}},
                     "xOffset": {"field": "si", "type": "nominal", "sort": ["siCTRL", "siCtIP"]}},
        "layer": [
         {"mark": {"type": "bar"}, "encoding": {"y": {"field": "v", "type": "quantitative", "scale": {"domain": [0, 6], "nice": false}, "axis": {"title": null, "labels": false, "domain": false, "values": [0, 1, 2, 3, 4, 5, 6], "tickCount": 20, "grid": true}},
           "color": {"field": "si", "type": "nominal", "scale": {"domain": ["siCTRL", "siCtIP"], "range": ["#5b9bd5", "#f5a04c"]}, "legend": null}}},
         {"mark": {"type": "rule", "color": "#222", "strokeWidth": 1.2}, "encoding": {"y": {"field": "lo", "type": "quantitative"}, "y2": {"field": "hi"}}},
         {"mark": {"type": "tick", "size": 6, "thickness": 1.2, "color": "#222"}, "encoding": {"y": {"field": "lo", "type": "quantitative"}}},
         {"mark": {"type": "tick", "size": 6, "thickness": 1.2, "color": "#222"}, "encoding": {"y": {"field": "hi", "type": "quantitative"}}}
        ]},
       {"transform": [{"filter": "datum.kind == 'ann'"}],
        "encoding": {"x": {"field": "geno", "type": "nominal", "sort": ["WT", "53bp1-/-", "Ku70-/-", "Ku70-/- 53bp1-/-"]}},
        "layer": [
         {"mark": {"type": "text", "baseline": "middle", "fontSize": 12.5}, "encoding": {"y": {"field": "ly", "type": "quantitative"}, "text": {"field": "lab"}}},
         {"transform": [{"filter": "datum.sig == '*'"}], "mark": {"type": "text", "baseline": "alphabetic", "fontSize": 14, "dy": 4}, "encoding": {"y": {"field": "by", "type": "quantitative"}, "text": {"field": "sig"}}},
         {"transform": [{"filter": "datum.sig == '†'"}], "mark": {"type": "text", "baseline": "alphabetic", "fontSize": 13, "dy": -7, "color": "#000"}, "encoding": {"y": {"field": "by", "type": "quantitative"}, "text": {"field": "sig"}}},
         {"transform": [{"filter": "isValid(datum.by)"}], "mark": {"type": "tick", "size": 11.3, "thickness": 1, "color": "#000"}, "encoding": {"y": {"field": "by", "type": "quantitative"}}},
         {"transform": [{"filter": "isValid(datum.by)"}, {"flatten": ["pair"], "as": ["si"]}], "mark": {"type": "rule", "color": "#000", "strokeWidth": 1, "y2Offset": 6}, "encoding": {"xOffset": {"field": "si", "type": "nominal", "sort": ["siCTRL", "siCtIP"]}, "y": {"field": "by", "type": "quantitative"}, "y2": {"field": "by"}}}
        ]},
       {"transform": [{"filter": "datum.kind == 'grp'"}],
        "layer": [
         {"mark": {"type": "tick", "orient": "horizontal", "size": 141, "thickness": 1, "color": "#000", "yOffset": 50.7}, "encoding": {"y": {"datum": 0, "type": "quantitative"}}},
         {"mark": {"type": "text", "baseline": "middle", "dy": 63, "fontSize": 12.5}, "encoding": {"y": {"datum": 0, "type": "quantitative"}, "text": {"field": "grp"}}}
        ]}
      ]
     },
     {
      "width": 151.5, "height": 141.7, "view": {"stroke": "#bfbfbf"},
      "data": {"name": "bB"}, "transform": [{"filter": "datum.grp == '3.3 kbp'"}],
      "layer": [
       {"transform": [{"filter": "datum.kind == 'bar'"}],
        "encoding": {"x": {"field": "geno", "type": "nominal", "sort": ["WT", "53bp1-/-", "Ku70-/-", "Ku70-/- 53bp1-/-"], "scale": {"paddingInner": 0.41, "paddingOuter": 0.19}, "axis": {"title": null, "labelAngle": -45, "labelAlign": "right", "labelBaseline": "top", "labelPadding": 3, "labelLineHeight": 14, "labelExpr": "datum.value == 'Ku70-/- 53bp1-/-' ? ['Ku70-/-', '53bp1-/-'] : datum.value", "labelFontStyle": {"condition": {"test": "datum.value == 'WT'", "value": "normal"}, "value": "italic"}}},
                     "xOffset": {"field": "si", "type": "nominal", "sort": ["siCTRL", "siCtIP"]}},
        "layer": [
         {"mark": {"type": "bar"}, "encoding": {"y": {"field": "v", "type": "quantitative", "scale": {"domain": [0, 6], "nice": false}, "axis": {"title": null, "labels": false, "domain": false, "values": [0, 1, 2, 3, 4, 5, 6], "tickCount": 20, "grid": true}},
           "color": {"field": "si", "type": "nominal", "scale": {"domain": ["siCTRL", "siCtIP"], "range": ["#5b9bd5", "#f5a04c"]}, "legend": null}}},
         {"mark": {"type": "rule", "color": "#222", "strokeWidth": 1.2}, "encoding": {"y": {"field": "lo", "type": "quantitative"}, "y2": {"field": "hi"}}},
         {"mark": {"type": "tick", "size": 6, "thickness": 1.2, "color": "#222"}, "encoding": {"y": {"field": "lo", "type": "quantitative"}}},
         {"mark": {"type": "tick", "size": 6, "thickness": 1.2, "color": "#222"}, "encoding": {"y": {"field": "hi", "type": "quantitative"}}}
        ]},
       {"transform": [{"filter": "datum.kind == 'ann'"}],
        "encoding": {"x": {"field": "geno", "type": "nominal", "sort": ["WT", "53bp1-/-", "Ku70-/-", "Ku70-/- 53bp1-/-"]}},
        "layer": [
         {"mark": {"type": "text", "baseline": "middle", "fontSize": 12.5}, "encoding": {"y": {"field": "ly", "type": "quantitative"}, "text": {"field": "lab"}}},
         {"transform": [{"filter": "datum.sig == '*'"}], "mark": {"type": "text", "baseline": "alphabetic", "fontSize": 14, "dy": 4}, "encoding": {"y": {"field": "by", "type": "quantitative"}, "text": {"field": "sig"}}},
         {"transform": [{"filter": "datum.sig == '†'"}], "mark": {"type": "text", "baseline": "alphabetic", "fontSize": 13, "dy": -7, "color": "#000"}, "encoding": {"y": {"field": "by", "type": "quantitative"}, "text": {"field": "sig"}}},
         {"transform": [{"filter": "isValid(datum.by)"}], "mark": {"type": "tick", "size": 11.3, "thickness": 1, "color": "#000"}, "encoding": {"y": {"field": "by", "type": "quantitative"}}},
         {"transform": [{"filter": "isValid(datum.by)"}, {"flatten": ["pair"], "as": ["si"]}], "mark": {"type": "rule", "color": "#000", "strokeWidth": 1, "y2Offset": 6}, "encoding": {"xOffset": {"field": "si", "type": "nominal", "sort": ["siCTRL", "siCtIP"]}, "y": {"field": "by", "type": "quantitative"}, "y2": {"field": "by"}}}
        ]},
       {"transform": [{"filter": "datum.kind == 'grp'"}],
        "layer": [
         {"mark": {"type": "tick", "orient": "horizontal", "size": 141, "thickness": 1, "color": "#000", "yOffset": 50.7}, "encoding": {"y": {"datum": 0, "type": "quantitative"}}},
         {"mark": {"type": "text", "baseline": "middle", "dy": 63, "fontSize": 12.5}, "encoding": {"y": {"datum": 0, "type": "quantitative"}, "text": {"field": "grp"}}}
        ]}
      ]
     }
    ],
    "spacing": 0, "bounds": "flush",
    "resolve": {"scale": {"color": "independent", "xOffset": "independent", "x": "independent", "y": "independent"}}
   }
  ],
  "columns": 1, "align": "none", "spacing": 1,
  "resolve": {"scale": {"color": "independent", "xOffset": "independent", "opacity": "independent", "x": "independent", "y": "independent"}}
 }
],
"columns": 1, "align": "none", "spacing": 8,
"datasets": {
 "blA_boxes": [{"from": 0.47, "to": 2.46}, {"from": 2.73, "to": 5.09}, {"from": 5.27, "to": 9.36}],
 "blA_lanes": [
  {"lane": 1.0, "si": "siCTRL", "p": 0.85, "a": 1}, {"lane": 1.93, "si": "siBRCA1", "p": 0.3, "a": 1},
  {"lane": 3.36, "si": "siCTRL", "p": 0.65, "a": 1}, {"lane": 4.51, "si": "siBRCA1", "p": 0.4, "a": 1},
  {"lane": 5.88, "si": "siCTRL", "p": 0.85, "a": 0.85}, {"lane": 6.85, "si": "siBRCA1", "p": 0.35, "a": 0.85},
  {"lane": 7.84, "si": "siCTRL", "p": 1.0, "a": 0.85}, {"lane": 8.84, "si": "siBRCA1", "p": 0.55, "a": 0.85}],
 "blA_groups": [{"g": "WT", "c": 1.47, "from": 0.70, "to": 2.45}, {"g": "53bp1 -/-", "c": 4.10, "from": 2.76, "to": 5.09}, {"g": "53bp1-/-", "c": 6.38, "from": 5.40, "to": 7.36}, {"g": "Ku70 -/-", "c": 8.38, "from": 7.43, "to": 9.36}],
 "blB_boxes": [{"from": 0.76, "to": 2.87}, {"from": 3.02, "to": 5.13}, {"from": 5.29, "to": 9.19}],
 "blB_lanes": [
  {"lane": 1.32, "si": "siCTRL", "p": 1.0, "a": 1}, {"lane": 2.28, "si": "siCtIP", "p": 0.22, "a": 1},
  {"lane": 3.46, "si": "siCTRL", "p": 0.85, "a": 1}, {"lane": 4.45, "si": "siCtIP", "p": 0.06, "a": 1},
  {"lane": 5.91, "si": "siCTRL", "p": 0.6, "a": 0.85}, {"lane": 6.85, "si": "siCtIP", "p": 0.18, "a": 0.85},
  {"lane": 7.75, "si": "siCTRL", "p": 0.9, "a": 0.85}, {"lane": 8.68, "si": "siCtIP", "p": 0.15, "a": 0.85}],
 "blB_groups": [{"g": "WT", "c": 1.88, "from": 0.82, "to": 2.81}, {"g": "53bp1 -/-", "c": 4.16, "from": 3.22, "to": 5.09}, {"g": "53bp1-/-", "c": 6.38, "from": 5.44, "to": 7.32}, {"g": "Ku70 -/-", "c": 8.31, "from": 7.49, "to": 9.07}],
 "sA_bars": [
  {"geno": "WT", "si": "siCTRL", "v": 8.6, "lo": 5.6, "hi": 11.4}, {"geno": "WT", "si": "siBRCA1", "v": 2.4, "lo": 2.0, "hi": 2.8},
  {"geno": "53bp1-/-", "si": "siCTRL", "v": 13.4, "lo": 7.6, "hi": 19.0}, {"geno": "53bp1-/-", "si": "siBRCA1", "v": 8.3, "lo": 5.6, "hi": 11.0},
  {"geno": "Ku70-/-", "si": "siCTRL", "v": 30.6, "lo": 27.7, "hi": 33.5}, {"geno": "Ku70-/-", "si": "siBRCA1", "v": 27.4, "lo": 23.6, "hi": 31.2},
  {"geno": "Ku70-/- 53bp1-/-", "si": "siCTRL", "v": 38.1, "lo": 33.6, "hi": 42.6}, {"geno": "Ku70-/- 53bp1-/-", "si": "siBRCA1", "v": 36.8, "lo": 33.2, "hi": 40.3}],
 "sA_ann": [{"geno": "WT", "lab": "3.7x", "ly": 24.8, "sig": "*", "by": 19.8, "pair": ["siCTRL", "siBRCA1"]}],
 "sB_bars": [
  {"geno": "WT", "si": "siCTRL", "v": 8.6, "lo": 5.6, "hi": 11.4}, {"geno": "WT", "si": "siCtIP", "v": 2.7, "lo": 1.9, "hi": 3.5},
  {"geno": "53bp1-/-", "si": "siCTRL", "v": 13.4, "lo": 7.6, "hi": 19.0}, {"geno": "53bp1-/-", "si": "siCtIP", "v": 5.0, "lo": 3.0, "hi": 7.3},
  {"geno": "Ku70-/-", "si": "siCTRL", "v": 30.6, "lo": 27.7, "hi": 33.5}, {"geno": "Ku70-/-", "si": "siCtIP", "v": 25.6, "lo": 23.8, "hi": 27.8},
  {"geno": "Ku70-/- 53bp1-/-", "si": "siCTRL", "v": 38.1, "lo": 33.6, "hi": 42.6}, {"geno": "Ku70-/- 53bp1-/-", "si": "siCtIP", "v": 32.8, "lo": 30.6, "hi": 35.2}],
 "sB_ann": [
  {"geno": "WT", "lab": "3.5x", "ly": 35.2, "sig": "*", "by": 23.2, "pair": ["siCTRL", "siCtIP"]},
  {"geno": "53bp1-/-", "lab": "2.8x", "ly": 38.6, "sig": "*", "by": 27.7, "pair": ["siCTRL", "siCtIP"]},
  {"geno": "Ku70-/-", "lab": "1.2x", "ly": 56.4, "sig": "*", "by": 45.9, "pair": ["siCTRL", "siCtIP"]},
  {"geno": "Ku70-/- 53bp1-/-", "lab": "1.2x", "ly": 65.9, "sig": "*", "by": 51.8, "pair": ["siCTRL", "siCtIP"]}],
 "bA": [
  {"kind": "bar", "grp": "28.4 kbp", "geno": "WT", "si": "siCTRL", "v": 0.55, "lo": 0.50, "hi": 0.60},
  {"kind": "bar", "grp": "28.4 kbp", "geno": "WT", "si": "siBRCA1", "v": 0.21, "lo": 0.12, "hi": 0.30},
  {"kind": "bar", "grp": "28.4 kbp", "geno": "53bp1-/-", "si": "siCTRL", "v": 0.76, "lo": 0.51, "hi": 1.01},
  {"kind": "bar", "grp": "28.4 kbp", "geno": "53bp1-/-", "si": "siBRCA1", "v": 0.70, "lo": 0.43, "hi": 0.95},
  {"kind": "bar", "grp": "28.4 kbp", "geno": "Ku70-/-", "si": "siCTRL", "v": 2.00, "lo": 1.71, "hi": 2.26},
  {"kind": "bar", "grp": "28.4 kbp", "geno": "Ku70-/-", "si": "siBRCA1", "v": 1.66, "lo": 1.43, "hi": 1.90},
  {"kind": "bar", "grp": "28.4 kbp", "geno": "Ku70-/- 53bp1-/-", "si": "siCTRL", "v": 2.15, "lo": 1.78, "hi": 2.50},
  {"kind": "bar", "grp": "28.4 kbp", "geno": "Ku70-/- 53bp1-/-", "si": "siBRCA1", "v": 2.29, "lo": 1.90, "hi": 2.71},
  {"kind": "bar", "grp": "19 kbp", "geno": "WT", "si": "siCTRL", "v": 0.63, "lo": 0.52, "hi": 0.74},
  {"kind": "bar", "grp": "19 kbp", "geno": "WT", "si": "siBRCA1", "v": 0.32, "lo": 0.25, "hi": 0.39},
  {"kind": "bar", "grp": "19 kbp", "geno": "53bp1-/-", "si": "siCTRL", "v": 0.91, "lo": 0.43, "hi": 1.28},
  {"kind": "bar", "grp": "19 kbp", "geno": "53bp1-/-", "si": "siBRCA1", "v": 0.78, "lo": 0.45, "hi": 1.11},
  {"kind": "bar", "grp": "19 kbp", "geno": "Ku70-/-", "si": "siCTRL", "v": 2.15, "lo": 1.92, "hi": 2.37},
  {"kind": "bar", "grp": "19 kbp", "geno": "Ku70-/-", "si": "siBRCA1", "v": 2.19, "lo": 1.71, "hi": 2.71},
  {"kind": "bar", "grp": "19 kbp", "geno": "Ku70-/- 53bp1-/-", "si": "siCTRL", "v": 2.20, "lo": 1.85, "hi": 2.52},
  {"kind": "bar", "grp": "19 kbp", "geno": "Ku70-/- 53bp1-/-", "si": "siBRCA1", "v": 2.53, "lo": 2.05, "hi": 2.92},
  {"kind": "bar", "grp": "9.1 kbp", "geno": "WT", "si": "siCTRL", "v": 1.24, "lo": 1.01, "hi": 1.47},
  {"kind": "bar", "grp": "9.1 kbp", "geno": "WT", "si": "siBRCA1", "v": 0.48, "lo": 0.42, "hi": 0.55},
  {"kind": "bar", "grp": "9.1 kbp", "geno": "53bp1-/-", "si": "siCTRL", "v": 1.52, "lo": 0.83, "hi": 2.15},
  {"kind": "bar", "grp": "9.1 kbp", "geno": "53bp1-/-", "si": "siBRCA1", "v": 1.52, "lo": 0.86, "hi": 2.13},
  {"kind": "bar", "grp": "9.1 kbp", "geno": "Ku70-/-", "si": "siCTRL", "v": 3.47, "lo": 2.49, "hi": 4.42},
  {"kind": "bar", "grp": "9.1 kbp", "geno": "Ku70-/-", "si": "siBRCA1", "v": 5.28, "lo": 4.83, "hi": 5.71},
  {"kind": "bar", "grp": "9.1 kbp", "geno": "Ku70-/- 53bp1-/-", "si": "siCTRL", "v": 3.89, "lo": 3.38, "hi": 4.38},
  {"kind": "bar", "grp": "9.1 kbp", "geno": "Ku70-/- 53bp1-/-", "si": "siBRCA1", "v": 5.60, "lo": 5.20, "hi": 6.02},
  {"kind": "bar", "grp": "3.3 kbp", "geno": "WT", "si": "siCTRL", "v": 1.28, "lo": 1.02, "hi": 1.52},
  {"kind": "bar", "grp": "3.3 kbp", "geno": "WT", "si": "siBRCA1", "v": 0.72, "lo": 0.48, "hi": 0.95},
  {"kind": "bar", "grp": "3.3 kbp", "geno": "53bp1-/-", "si": "siCTRL", "v": 2.00, "lo": 1.29, "hi": 2.61},
  {"kind": "bar", "grp": "3.3 kbp", "geno": "53bp1-/-", "si": "siBRCA1", "v": 2.23, "lo": 1.52, "hi": 2.92},
  {"kind": "bar", "grp": "3.3 kbp", "geno": "Ku70-/-", "si": "siCTRL", "v": 4.15, "lo": 3.88, "hi": 4.42},
  {"kind": "bar", "grp": "3.3 kbp", "geno": "Ku70-/-", "si": "siBRCA1", "v": 5.43, "lo": 4.76, "hi": 6.12},
  {"kind": "bar", "grp": "3.3 kbp", "geno": "Ku70-/- 53bp1-/-", "si": "siCTRL", "v": 3.20, "lo": 3.00, "hi": 3.38},
  {"kind": "bar", "grp": "3.3 kbp", "geno": "Ku70-/- 53bp1-/-", "si": "siBRCA1", "v": 5.05, "lo": 4.57, "hi": 5.52},
  {"kind": "ann", "grp": "28.4 kbp", "geno": "WT", "lab": "2.6x", "ly": 2.44, "sig": "*", "by": 1.52, "pair": ["siCTRL", "siBRCA1"]},
  {"kind": "ann", "grp": "19 kbp", "geno": "WT", "lab": "1.9x", "ly": 2.53, "sig": "*", "by": 1.71, "pair": ["siCTRL", "siBRCA1"]},
  {"kind": "ann", "grp": "9.1 kbp", "geno": "WT", "lab": "2.5x", "ly": 3.39, "sig": "*", "by": 2.51, "pair": ["siCTRL", "siBRCA1"]},
  {"kind": "ann", "grp": "9.1 kbp", "geno": "Ku70-/-", "lab": "1.5x", "ly": 7.37, "sig": "*", "by": 6.67, "pair": ["siCTRL", "siBRCA1"]},
  {"kind": "ann", "grp": "9.1 kbp", "geno": "Ku70-/- 53bp1-/-", "lab": "1.4x", "ly": 7.37, "sig": "*", "by": 6.67, "pair": ["siCTRL", "siBRCA1"]},
  {"kind": "ann", "grp": "3.3 kbp", "geno": "WT", "lab": "1.7x", "ly": 3.39, "sig": "*", "by": 2.51, "pair": ["siCTRL", "siBRCA1"]},
  {"kind": "ann", "grp": "3.3 kbp", "geno": "Ku70-/-", "lab": "1.3x", "ly": 7.52, "sig": "*", "by": 6.86, "pair": ["siCTRL", "siBRCA1"]},
  {"kind": "ann", "grp": "3.3 kbp", "geno": "Ku70-/- 53bp1-/-", "lab": "1.6x", "ly": 7.56, "sig": "*", "by": 6.86, "pair": ["siCTRL", "siBRCA1"]},
  {"kind": "grp", "grp": "28.4 kbp"}, {"kind": "grp", "grp": "19 kbp"}, {"kind": "grp", "grp": "9.1 kbp"}, {"kind": "grp", "grp": "3.3 kbp"},
  {"kind": "left", "grp": "28.4 kbp", "part": "a", "t": "5' 268"}, {"kind": "left", "grp": "28.4 kbp", "part": "b", "t": "+ 3':"}
 ],
 "bB": [
  {"kind": "bar", "grp": "28.4 kbp", "geno": "WT", "si": "siCTRL", "v": 0.55, "lo": 0.50, "hi": 0.59},
  {"kind": "bar", "grp": "28.4 kbp", "geno": "WT", "si": "siCtIP", "v": 0.25, "lo": 0.18, "hi": 0.32},
  {"kind": "bar", "grp": "28.4 kbp", "geno": "53bp1-/-", "si": "siCTRL", "v": 0.77, "lo": 0.46, "hi": 1.06},
  {"kind": "bar", "grp": "28.4 kbp", "geno": "53bp1-/-", "si": "siCtIP", "v": 0.56, "lo": 0.24, "hi": 0.82},
  {"kind": "bar", "grp": "28.4 kbp", "geno": "Ku70-/-", "si": "siCTRL", "v": 2.01, "lo": 1.73, "hi": 2.27},
  {"kind": "bar", "grp": "28.4 kbp", "geno": "Ku70-/-", "si": "siCtIP", "v": 2.13, "lo": 1.73, "hi": 2.55},
  {"kind": "bar", "grp": "28.4 kbp", "geno": "Ku70-/- 53bp1-/-", "si": "siCTRL", "v": 2.15, "lo": 1.78, "hi": 2.52},
  {"kind": "bar", "grp": "28.4 kbp", "geno": "Ku70-/- 53bp1-/-", "si": "siCtIP", "v": 2.51, "lo": 2.23, "hi": 2.77},
  {"kind": "bar", "grp": "19 kbp", "geno": "WT", "si": "siCTRL", "v": 0.63, "lo": 0.52, "hi": 0.72},
  {"kind": "bar", "grp": "19 kbp", "geno": "WT", "si": "siCtIP", "v": 0.28, "lo": 0.24, "hi": 0.32},
  {"kind": "bar", "grp": "19 kbp", "geno": "53bp1-/-", "si": "siCTRL", "v": 0.90, "lo": 0.49, "hi": 1.31},
  {"kind": "bar", "grp": "19 kbp", "geno": "53bp1-/-", "si": "siCtIP", "v": 0.39, "lo": 0.17, "hi": 0.63},
  {"kind": "bar", "grp": "19 kbp", "geno": "Ku70-/-", "si": "siCTRL", "v": 2.15, "lo": 1.90, "hi": 2.40},
  {"kind": "bar", "grp": "19 kbp", "geno": "Ku70-/-", "si": "siCtIP", "v": 2.07, "lo": 1.83, "hi": 2.30},
  {"kind": "bar", "grp": "19 kbp", "geno": "Ku70-/- 53bp1-/-", "si": "siCTRL", "v": 2.20, "lo": 1.86, "hi": 2.54},
  {"kind": "bar", "grp": "19 kbp", "geno": "Ku70-/- 53bp1-/-", "si": "siCtIP", "v": 2.10, "lo": 1.90, "hi": 2.30},
  {"kind": "bar", "grp": "9.1 kbp", "geno": "WT", "si": "siCTRL", "v": 1.30, "lo": 1.06, "hi": 1.52},
  {"kind": "bar", "grp": "9.1 kbp", "geno": "WT", "si": "siCtIP", "v": 0.42, "lo": 0.36, "hi": 0.50},
  {"kind": "bar", "grp": "9.1 kbp", "geno": "53bp1-/-", "si": "siCTRL", "v": 1.55, "lo": 0.89, "hi": 2.18},
  {"kind": "bar", "grp": "9.1 kbp", "geno": "53bp1-/-", "si": "siCtIP", "v": 0.89, "lo": 0.42, "hi": 1.34},
  {"kind": "bar", "grp": "9.1 kbp", "geno": "Ku70-/-", "si": "siCTRL", "v": 3.45, "lo": 2.49, "hi": 4.39},
  {"kind": "bar", "grp": "9.1 kbp", "geno": "Ku70-/-", "si": "siCtIP", "v": 3.41, "lo": 3.06, "hi": 3.76},
  {"kind": "bar", "grp": "9.1 kbp", "geno": "Ku70-/- 53bp1-/-", "si": "siCTRL", "v": 3.90, "lo": 3.41, "hi": 4.38},
  {"kind": "bar", "grp": "9.1 kbp", "geno": "Ku70-/- 53bp1-/-", "si": "siCtIP", "v": 3.56, "lo": 3.17, "hi": 3.94},
  {"kind": "bar", "grp": "3.3 kbp", "geno": "WT", "si": "siCTRL", "v": 1.32, "lo": 1.04, "hi": 1.59},
  {"kind": "bar", "grp": "3.3 kbp", "geno": "WT", "si": "siCtIP", "v": 0.59, "lo": 0.49, "hi": 0.68},
  {"kind": "bar", "grp": "3.3 kbp", "geno": "53bp1-/-", "si": "siCTRL", "v": 2.01, "lo": 1.34, "hi": 2.65},
  {"kind": "bar", "grp": "3.3 kbp", "geno": "53bp1-/-", "si": "siCtIP", "v": 1.24, "lo": 0.70, "hi": 1.76},
  {"kind": "bar", "grp": "3.3 kbp", "geno": "Ku70-/-", "si": "siCTRL", "v": 4.18, "lo": 3.92, "hi": 4.44},
  {"kind": "bar", "grp": "3.3 kbp", "geno": "Ku70-/-", "si": "siCtIP", "v": 3.77, "lo": 3.49, "hi": 4.04},
  {"kind": "bar", "grp": "3.3 kbp", "geno": "Ku70-/- 53bp1-/-", "si": "siCTRL", "v": 3.21, "lo": 3.03, "hi": 3.38},
  {"kind": "bar", "grp": "3.3 kbp", "geno": "Ku70-/- 53bp1-/-", "si": "siCtIP", "v": 3.38, "lo": 2.96, "hi": 3.80},
  {"kind": "ann", "grp": "28.4 kbp", "geno": "WT", "lab": "2.2x", "ly": 2.42, "sig": "*", "by": 1.55, "pair": ["siCTRL", "siCtIP"]},
  {"kind": "ann", "grp": "28.4 kbp", "geno": "53bp1-/-", "lab": "1.4x", "ly": 1.55, "sig": null, "by": null},
  {"kind": "ann", "grp": "19 kbp", "geno": "WT", "lab": "2.3x", "ly": 2.39, "sig": "*", "by": 1.27, "pair": ["siCTRL", "siCtIP"]},
  {"kind": "ann", "grp": "19 kbp", "geno": "53bp1-/-", "lab": "2.2x", "ly": 3.34, "sig": "†", "by": 1.86, "pair": ["siCTRL", "siCtIP"]},
  {"kind": "ann", "grp": "9.1 kbp", "geno": "WT", "lab": "3x", "ly": 2.77, "sig": "*", "by": 2.14, "pair": ["siCTRL", "siCtIP"]},
  {"kind": "ann", "grp": "9.1 kbp", "geno": "53bp1-/-", "lab": "1.8x", "ly": 2.75, "sig": null, "by": null},
  {"kind": "ann", "grp": "3.3 kbp", "geno": "WT", "lab": "2.4x", "ly": 3.34, "sig": "*", "by": 2.46, "pair": ["siCTRL", "siCtIP"]},
  {"kind": "ann", "grp": "3.3 kbp", "geno": "53bp1-/-", "lab": "1.6x", "ly": 4.37, "sig": "†", "by": 3.31, "pair": ["siCTRL", "siCtIP"]},
  {"kind": "ann", "grp": "3.3 kbp", "geno": "Ku70-/-", "lab": "1.1x", "ly": 5.72, "sig": "†", "by": 4.86, "pair": ["siCTRL", "siCtIP"]},
  {"kind": "grp", "grp": "28.4 kbp"}, {"kind": "grp", "grp": "19 kbp"}, {"kind": "grp", "grp": "9.1 kbp"}, {"kind": "grp", "grp": "3.3 kbp"},
  {"kind": "left", "grp": "28.4 kbp", "part": "a", "t": "5' 268"}, {"kind": "left", "grp": "28.4 kbp", "part": "b", "t": "+ 3':"}
 ]
}
}
